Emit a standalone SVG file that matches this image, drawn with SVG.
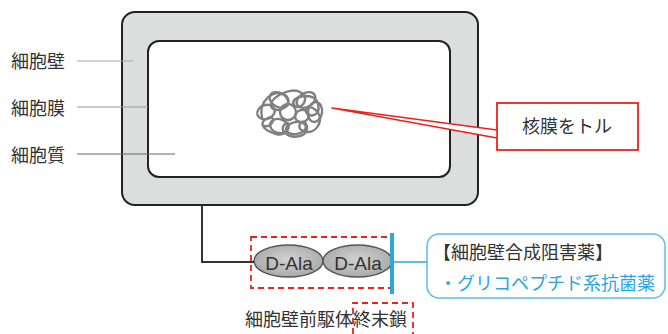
<svg xmlns="http://www.w3.org/2000/svg" width="668" height="334" viewBox="0 0 668 334">
  <style>
    .jp { font-family: "Noto Sans CJK JP", "Noto Sans", sans-serif; font-size: 18px; fill: #333; }
    .lat { font-family: "Liberation Sans", Arial, sans-serif; font-size: 19px; fill: #333; }
    .cell { stroke: #222; stroke-width: 2; }
    .dna { fill: none; stroke: #808080; stroke-width: 2.4; stroke-linecap: round; }
    .ala { fill: url(#alaFill); stroke: #555; stroke-width: 1.5; }
    .red { fill: none; stroke: #e8231e; stroke-width: 1.8; }
    .dash { fill: none; stroke: #e8231e; stroke-width: 1.8; stroke-dasharray: 6 4; }
  </style>
  <defs>
    <radialGradient id="alaFill" cx="0.5" cy="0.45" r="0.6">
      <stop offset="0" stop-color="#d2d2d2"/>
      <stop offset="1" stop-color="#a6a6a6"/>
    </radialGradient>
  </defs>
  <rect width="668" height="334" fill="#fff"/>

  <!-- bacterial cell: wall, membrane, cytoplasm -->
  <g id="cell">
    <rect class="cell" x="122" y="12" width="356" height="193" rx="13" fill="#dcdddd"/>
    <rect class="cell" x="148" y="41" width="302" height="136" rx="11" fill="#fff"/>
  </g>

  <!-- nucleoid (tangled DNA) -->
  <g id="nucleoid" class="dna">
    <ellipse cx="266" cy="112" rx="9" ry="7" transform="rotate(-20 266 112)"/>
    <ellipse cx="279" cy="100" rx="10" ry="7" transform="rotate(30 279 100)"/>
    <ellipse cx="306" cy="100" rx="10" ry="7" transform="rotate(-30 306 100)"/>
    <ellipse cx="315" cy="112" rx="7" ry="10" transform="rotate(10 315 112)"/>
    <ellipse cx="296" cy="128" rx="10" ry="6" transform="rotate(-10 296 128)"/>
    <ellipse cx="279" cy="126" rx="9" ry="7" transform="rotate(15 279 126)"/>
    <ellipse cx="288" cy="112" rx="8" ry="8"/>
    <ellipse cx="302" cy="116" rx="7" ry="6" transform="rotate(-20 302 116)"/>
    <path d="M262,118 C258,100 275,88 285,95 C295,102 280,115 272,108 C265,100 290,86 300,92 C312,98 300,112 294,105 C288,97 315,90 318,104 C322,118 305,118 306,110 C307,102 326,112 318,126 C312,136 296,132 300,124 C304,116 314,132 300,136 C288,139 278,130 285,124 C292,118 290,138 276,134 C262,130 258,122 268,118 C276,114 274,128 264,126"/>
  </g>

  <!-- part labels -->
  <g id="label-wall">
    <text class="jp" x="11" y="68">細胞壁</text>
  </g>
  <g id="label-membrane">
    <text class="jp" x="11" y="115">細胞膜</text>
  </g>
  <g id="label-cytoplasm">
    <text class="jp" x="11" y="162">細胞質</text>
  </g>

  <!-- callout: no nuclear membrane -->
  <g id="callout-nucleus">
    <rect class="red" x="497" y="103" width="141" height="47" fill="#fff"/>
    <text class="jp" x="567" y="133" text-anchor="middle">核膜をトル</text>
  </g>

  <!-- D-Ala-D-Ala terminus -->
  <g id="d-ala-1">
    <ellipse class="ala" cx="288.5" cy="261" rx="34.5" ry="16"/>
    <text class="lat" x="289" y="270" text-anchor="middle">D-Ala</text>
  </g>
  <g id="d-ala-2">
    <ellipse class="ala" cx="357.5" cy="261" rx="34.5" ry="16"/>
    <text class="lat" x="358" y="270" text-anchor="middle">D-Ala</text>
  </g>
  <g id="terminus-frame">
    <rect class="dash" x="251" y="237" width="141" height="51"/>
    <path class="dash" d="M353,334 V303 H413 V334"/>
  </g>
  <g id="label-precursor">
    <text class="jp" x="245" y="326">細胞壁前駆体終末鎖</text>
  </g>

  <!-- drug class box -->
  <g id="drug-box">
    <rect x="427" y="234" width="238" height="64" rx="12" fill="#fff" stroke="#5bbde8" stroke-width="1.5"/>
    <text class="jp" x="433" y="259">【細胞壁合成阻害薬】</text>
    <text class="jp" x="439" y="290" style="fill:#2aa6e0">・グリコペプチド系抗菌薬</text>
  </g>

  <!-- connectors -->
  <g id="connectors">
    <line x1="77" y1="61" x2="133" y2="61" stroke="#aaa" stroke-width="1.2"/>
    <line x1="77" y1="107" x2="148" y2="107" stroke="#999" stroke-width="1.2"/>
    <line x1="77" y1="154" x2="175" y2="154" stroke="#666" stroke-width="1.2"/>
    <polygon points="332,108 497,130 497,138" fill="#fff" stroke="#e8231e" stroke-width="1.5" stroke-linejoin="round"/>
    <path d="M202,205 V262 H254" fill="none" stroke="#333" stroke-width="2"/>
    <line x1="392" y1="233" x2="392" y2="294" stroke="#2aa6e0" stroke-width="4"/>
    <line x1="394" y1="262" x2="427" y2="262" stroke="#2aa6e0" stroke-width="1.5"/>
  </g>
</svg>
